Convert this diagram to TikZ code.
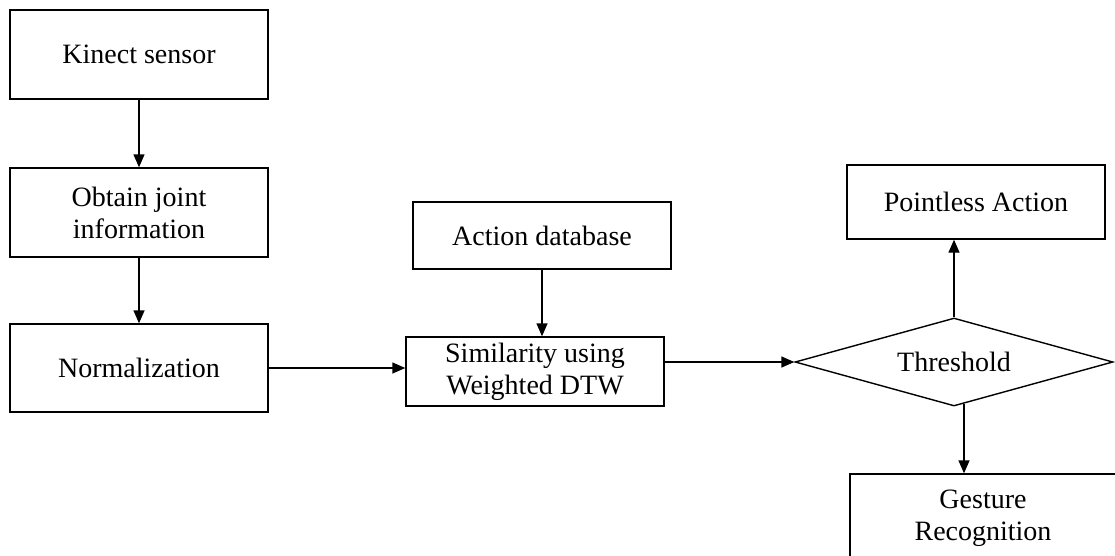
\documentclass[tikz,border=0pt]{standalone}
\usepackage{fontspec}
\setmainfont{Liberation Serif}
\usetikzlibrary{shapes.geometric,arrows.meta}
\begin{document}
\begin{tikzpicture}[x=1pt,y=-1pt,
  box/.style={draw,line width=1.4pt,minimum width=258pt,align=center,inner sep=0pt,
    font=\fontsize{28}{32}\selectfont},
  conn/.style={line width=1.4pt,-{Triangle[length=13pt,width=11pt]}}]
\useasboundingbox (0,0) rectangle (1115,555);
\node[box,minimum height=89pt] (ks) at (139,54.5) {Kinect sensor};
\node[box,minimum height=89pt] (oj) at (139,212.5) {Obtain joint\\information};
\node[box,minimum height=88pt] (nm) at (139,368) {Normalization};
\node[box,minimum height=67pt] (ad) at (542,235.5) {Action database};
\node[box,minimum height=69pt] (sim) at (535,371.5) {Similarity using\\Weighted DTW};
\node[box,shape=diamond,minimum width=318pt,minimum height=88pt,aspect=3.6] (th) at (954,362) {Threshold};
\node[box,minimum height=74pt] (pa) at (976,202) {Pointless Action};
\node[box,minimum width=266pt,minimum height=88pt] (gr) at (983,518) {Gesture\\Recognition};
\coordinate (thb) at ([xshift=10pt,yshift=2.6pt]th.south);
\draw[conn] (ks) -- (oj);
\draw[conn] (oj) -- (nm);
\draw[conn] (nm.east) -- (nm.east -| sim.west);
\draw[conn] (ad.south -| 542,0) -- (542,0 |- sim.north);
\draw[conn] (sim.east |- th.west) -- (th.west);
\draw[conn] (th.north) -- (th.north |- pa.south);
\draw[conn] (thb) -- (thb |- gr.north);
\end{tikzpicture}
\end{document}
